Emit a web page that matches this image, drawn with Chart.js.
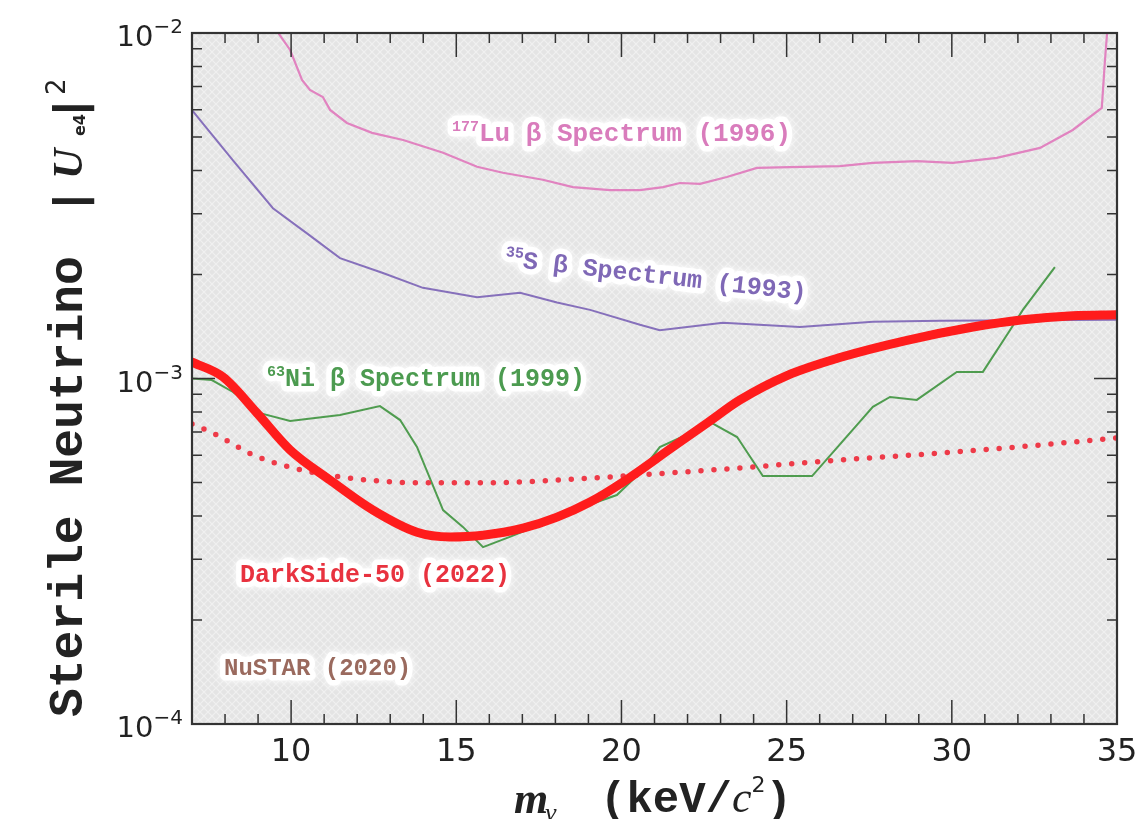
<!DOCTYPE html>
<html>
<head>
<meta charset="utf-8">
<script src="https://cdn.jsdelivr.net/npm/chart.js@4.4.1/dist/chart.umd.min.js"></script>
<style>
  html, body { margin: 0; padding: 0; background: #fff; }
  canvas { display: block; }
</style>
</head>
<body>
<canvas id="chart" width="1138" height="819"></canvas>
<script>
// sterile neutrino mass (keV/c^2) and mixing |U_e4|^2
const lu177Mass = [9.55, 9.97, 10.33, 10.57, 10.96, 11.18, 11.69, 12.45, 13.39, 14.6, 15.63, 16.41, 17.62, 18.53, 19.65, 20.56, 21.26, 21.77, 22.38, 23.19, 24.1, 25.1, 26.61, 27.61, 28.94, 30.03, 31.36, 32.67, 33.66, 34.54, 34.63, 34.69, 34.72];
const lu177Mix = [1.02e-2, 8.93e-3, 7.31e-3, 6.84e-3, 6.53e-3, 5.99e-3, 5.49e-3, 5.14e-3, 4.9e-3, 4.5e-3, 4.1e-3, 3.94e-3, 3.76e-3, 3.58e-3, 3.51e-3, 3.51e-3, 3.58e-3, 3.68e-3, 3.66e-3, 3.83e-3, 4.07e-3, 4.09e-3, 4.12e-3, 4.21e-3, 4.26e-3, 4.21e-3, 4.35e-3, 4.65e-3, 5.24e-3, 6.07e-3, 8.19e-3, 9.73e-3, 1.05e-2];

const s35Mass = [7.0, 8.24, 9.45, 10.48, 11.48, 12.78, 13.99, 15.63, 16.93, 18.05, 19.05, 20.56, 21.16, 23.07, 25.4, 27.61, 29.64, 35];
const s35Mix = [5.98e-3, 4.28e-3, 3.11e-3, 2.63e-3, 2.23e-3, 2.02e-3, 1.83e-3, 1.72e-3, 1.77e-3, 1.66e-3, 1.58e-3, 1.43e-3, 1.38e-3, 1.45e-3, 1.41e-3, 1.46e-3, 1.47e-3, 1.48e-3];

const ni63Mass = [7.0, 7.6, 8.24, 9.06, 9.97, 11.48, 12.69, 13.3, 13.81, 14.6, 15.2, 15.81, 16.62, 17.53, 18.74, 19.86, 20.56, 21.16, 22.16, 22.74, 23.5, 24.28, 25.77, 27.61, 28.13, 28.94, 30.15, 30.94, 31.76, 32.15, 33.12];
const ni63Mix = [1.0e-3, 9.9e-4, 9.14e-4, 7.94e-4, 7.53e-4, 7.84e-4, 8.32e-4, 7.58e-4, 6.34e-4, 4.16e-4, 3.72e-4, 3.25e-4, 3.48e-4, 3.77e-4, 4.22e-4, 4.6e-4, 5.33e-4, 6.33e-4, 7.0e-4, 7.43e-4, 6.77e-4, 5.22e-4, 5.22e-4, 8.28e-4, 8.84e-4, 8.67e-4, 1.045e-3, 1.045e-3, 1.38e-3, 1.58e-3, 2.1e-3];

const ds50Mass = [7.0, 7.94, 8.97, 9.97, 11.18, 12.48, 13.81, 14.81, 15.81, 17.02, 18.05, 19.05, 20.04, 21.56, 22.59, 23.59, 25.01, 26.61, 28.64, 30.64, 32.15, 33.66, 35];
const ds50Mix = [1.116e-3, 1.01e-3, 7.94e-4, 6.21e-4, 5.08e-4, 4.16e-4, 3.59e-4, 3.48e-4, 3.52e-4, 3.69e-4, 3.97e-4, 4.39e-4, 5.01e-4, 6.34e-4, 7.43e-4, 8.67e-4, 1.02e-3, 1.15e-3, 1.29e-3, 1.41e-3, 1.48e-3, 1.52e-3, 1.53e-3];

const ds50DotMass = [7, 7.64, 8.85, 10.06, 11.48, 13.99, 16.02, 18.05, 20.56, 23.59, 26.61, 29.64, 32.67, 35];
const ds50DotMix = [7.38e-4, 6.95e-4, 6.01e-4, 5.51e-4, 5.19e-4, 4.99e-4, 4.99e-4, 5.08e-4, 5.26e-4, 5.51e-4, 5.81e-4, 6.08e-4, 6.42e-4, 6.73e-4];

const massTicks = [10, 15, 20, 25, 30, 35];
const mixTicks = [1e-4, 1e-3, 1e-2];
const mixTickExponents = ["−4", "−3", "−2"];

const MONO = '"Liberation Mono", "DejaVu Sans Mono", monospace';
const SERIF = '"Liberation Serif", "DejaVu Serif", serif';
const SANS = '"DejaVu Sans", sans-serif';

function toPoints(xs, ys) {
  return xs.map((x, i) => ({ x, y: ys[i] }));
}

function measureRich(ctx, parts) {
  let w = 0;
  parts.forEach(([t, f]) => { ctx.font = f; w += ctx.measureText(t).width; });
  return w;
}

// draws a run of text pieces [text, font, dy], optionally with a white glow behind
function drawRich(ctx, parts, x, y, color, halo) {
  const placed = [];
  let cx = x;
  parts.forEach(([t, f, dy]) => {
    ctx.font = f;
    placed.push([t, f, cx, dy || 0]);
    cx += ctx.measureText(t).width;
  });
  if (halo) {
    ctx.save();
    ctx.strokeStyle = "rgba(255,255,255,0.95)";
    ctx.lineWidth = 11;
    ctx.lineJoin = "round";
    ctx.shadowColor = "#ffffff";
    ctx.shadowBlur = 8;
    placed.forEach(([t, f, px, dy]) => { ctx.font = f; ctx.strokeText(t, px, y + dy); });
    ctx.restore();
  }
  ctx.fillStyle = color;
  placed.forEach(([t, f, px, dy]) => { ctx.font = f; ctx.fillText(t, px, y + dy); });
}

const labelFont = `bold 25px ${MONO}`;
const supFont = `bold 15px ${MONO}`;

const framePlugin = {
  id: "frame",
  beforeDatasetsDraw(chart) {
    const { ctx, chartArea: a } = chart;
    const tile = document.createElement("canvas");
    tile.width = 8;
    tile.height = 8;
    const t = tile.getContext("2d");
    t.fillStyle = "#e4e4e4";
    t.fillRect(0, 0, 8, 8);
    t.strokeStyle = "#f0f0f0";
    t.lineWidth = 1.2;
    t.beginPath();
    t.moveTo(0, 0); t.lineTo(8, 8);
    t.moveTo(8, 0); t.lineTo(0, 8);
    t.stroke();
    ctx.save();
    ctx.fillStyle = ctx.createPattern(tile, "repeat");
    ctx.fillRect(a.left, a.top, a.right - a.left, a.bottom - a.top);
    ctx.restore();
  },
  afterDatasetsDraw(chart) {
    const { ctx, chartArea: a, scales } = chart;
    const xs = scales.x, ys = scales.y;
    ctx.save();
    ctx.strokeStyle = "#333";
    ctx.lineWidth = 1.5;
    ctx.beginPath();
    for (let m = 8; m <= 34; m++) {
      const px = xs.getPixelForValue(m);
      const len = m % 5 === 0 ? 24 : 10;
      ctx.moveTo(px, a.bottom); ctx.lineTo(px, a.bottom - len);
      ctx.moveTo(px, a.top); ctx.lineTo(px, a.top + len);
    }
    for (let d = -4; d < -2; d++) {
      for (let k = 1; k <= 9; k++) {
        if (d === -4 && k === 1) continue;
        const py = ys.getPixelForValue(k * Math.pow(10, d));
        const len = k === 1 ? 23 : 10;
        ctx.moveTo(a.left, py); ctx.lineTo(a.left + len, py);
        ctx.moveTo(a.right, py); ctx.lineTo(a.right - len, py);
      }
    }
    ctx.stroke();
    ctx.lineWidth = 2.2;
    ctx.strokeRect(a.left, a.top, a.right - a.left, a.bottom - a.top);
    ctx.restore();

    // y tick labels 10^n with a real superscript
    ctx.save();
    ctx.textBaseline = "alphabetic";
    mixTicks.forEach((v, i) => {
      const py = ys.getPixelForValue(v);
      const parts = [["10", `29px ${SANS}`, 0], [mixTickExponents[i], `20px ${SANS}`, -13]];
      const w = measureRich(ctx, parts);
      drawRich(ctx, parts, 183 - w, py + 13, "#222", false);
    });
    ctx.restore();

    // curve labels
    ctx.save();
    ctx.textBaseline = "alphabetic";
    drawRich(ctx, [["177", supFont, -10], ["Lu β Spectrum (1996)", `bold 26px ${MONO}`]], 452, 141, "#d97cbc", true);
    drawRich(ctx, [["63", supFont, -10], ["Ni β Spectrum (1999)", labelFont]], 267, 386, "#4c9b50", true);
    drawRich(ctx, [["DarkSide-50 (2022)", labelFont]], 240, 582, "#e8323f", true);
    drawRich(ctx, [["NuSTAR (2020)", `bold 24px ${MONO}`]], 224, 675, "#9a6a5e", true);

    const sParts = [["35", supFont, -10], ["S β Spectrum (1993)", labelFont]];
    const sw = measureRich(ctx, sParts);
    ctx.translate(655, 283);
    ctx.rotate(6.5 * Math.PI / 180);
    drawRich(ctx, sParts, -sw / 2, 0, "#7f68b6", true);
    ctx.restore();

    // axis titles
    ctx.save();
    ctx.textBaseline = "alphabetic";
    drawRich(ctx, [["m", `bold italic 44px ${SERIF}`]], 514, 813, "#222", false);
    drawRich(ctx, [["ν", `italic 26px ${SERIF}`]], 545, 821, "#222", false);
    drawRich(ctx, [["(keV/", `bold 44px ${MONO}`], ["c", `italic 44px ${SERIF}`],
      ["2", `22px ${SANS}`, -20], [")", `bold 44px ${MONO}`]], 600, 812, "#222", false);

    ctx.translate(82, 717);
    ctx.rotate(-Math.PI / 2);
    drawRich(ctx, [["Sterile Neutrino", `bold 48px ${MONO}`]], 0, 0, "#222", false);
    ctx.font = `bold 44px ${MONO}`;
    ctx.textAlign = "center";
    ctx.fillText("|", 516, 2);
    ctx.fillText("|", 609, 2);
    ctx.textAlign = "left";
    drawRich(ctx, [["U", `bold italic 42px ${SERIF}`]], 538, 0, "#222", false);
    drawRich(ctx, [["e4", `bold 16px ${SANS}`]], 581, 3, "#222", false);
    drawRich(ctx, [["2", `26px ${SANS}`]], 622, -17, "#222", false);
    ctx.restore();
  }
};

new Chart(document.getElementById("chart"), {
  type: "line",
  data: {
    datasets: [
      {
        label: "DarkSide-50 (2022)",
        data: toPoints(ds50Mass, ds50Mix),
        borderColor: "#ff1c1c",
        borderWidth: 9,
        cubicInterpolationMode: "monotone",
        borderCapStyle: "round",
        borderJoinStyle: "round",
        pointRadius: 0,
      },
      {
        label: "DarkSide-50 projection",
        data: toPoints(ds50DotMass, ds50DotMix),
        borderColor: "#ee3a48",
        borderWidth: 5.5,
        borderDash: [0, 13],
        borderCapStyle: "round",
        cubicInterpolationMode: "monotone",
        pointRadius: 0,
      },
      {
        label: "63Ni β Spectrum (1999)",
        data: toPoints(ni63Mass, ni63Mix),
        borderColor: "#4f9c4f",
        borderWidth: 2,
        pointRadius: 0,
      },
      {
        label: "35S β Spectrum (1993)",
        data: toPoints(s35Mass, s35Mix),
        borderColor: "#8670bb",
        borderWidth: 2,
        pointRadius: 0,
      },
      {
        label: "177Lu β Spectrum (1996)",
        data: toPoints(lu177Mass, lu177Mix),
        borderColor: "#e183c0",
        borderWidth: 2.2,
        pointRadius: 0,
      },
    ],
  },
  options: {
    responsive: false,
    animation: false,
    devicePixelRatio: 1,
    layout: { padding: { top: 33, right: 21, left: 0, bottom: 0 } },
    plugins: {
      legend: { display: false },
      tooltip: { enabled: false },
    },
    scales: {
      x: {
        type: "linear",
        min: 7,
        max: 35,
        afterFit(scale) {
          scale.height = 95;
          scale.paddingLeft = 0;
          scale.paddingRight = 0;
        },
        afterBuildTicks(scale) { scale.ticks = massTicks.map((v) => ({ value: v })); },
        grid: { display: false, drawTicks: false },
        border: { display: false },
        ticks: {
          autoSkip: false,
          maxRotation: 0,
          padding: 9,
          color: "#222",
          font: { family: "DejaVu Sans", size: 32 },
        },
      },
      y: {
        type: "logarithmic",
        min: 1e-4,
        max: 1e-2,
        afterFit(scale) {
          scale.width = 192;
          scale.paddingTop = 0;
          scale.paddingBottom = 0;
        },
        afterBuildTicks(scale) { scale.ticks = mixTicks.map((v) => ({ value: v })); },
        grid: { display: false, drawTicks: false },
        border: { display: false },
        ticks: { display: false },
      },
    },
  },
  plugins: [framePlugin],
});
</script>
</body>
</html>
